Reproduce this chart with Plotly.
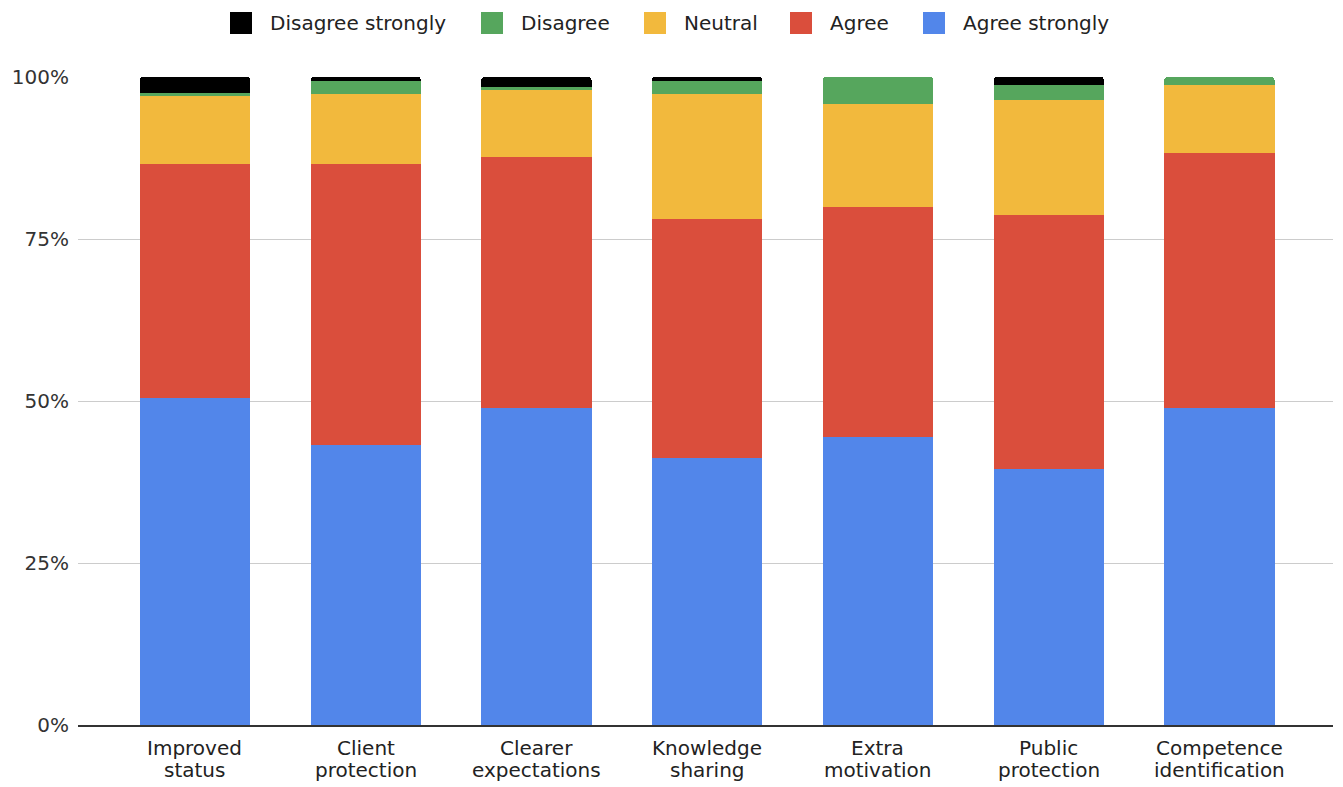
import plotly.graph_objects as go

# Survey responses per statement, share of respondents in percent
categories = [
    "Improved<br>status",
    "Client<br>protection",
    "Clearer<br>expectations",
    "Knowledge<br>sharing",
    "Extra<br>motivation",
    "Public<br>protection",
    "Competence<br>identification",
]
agree_strongly = [50.5, 43.2, 48.9, 41.2, 44.5, 39.5, 48.9]
agree = [36.1, 43.4, 38.8, 36.9, 35.4, 39.2, 39.4]
neutral = [10.5, 10.8, 10.4, 19.3, 16.0, 17.8, 10.5]
disagree = [0.5, 2.0, 0.3, 2.0, 4.1, 2.3, 1.2]
disagree_strongly = [2.4, 0.6, 1.6, 0.6, 0.0, 1.2, 0.0]

y_ticks = [0, 25, 50, 75, 100]
y_tick_labels = ["0%", "25%", "50%", "75%", "100%"]

# bottom-to-top stacking order
series = [
    ("Agree strongly", agree_strongly, "#5286EA"),
    ("Agree", agree, "#DA4E3C"),
    ("Neutral", neutral, "#F2B93D"),
    ("Disagree", disagree, "#56A65D"),
    ("Disagree strongly", disagree_strongly, "#000000"),
]

W, H = 1343, 787
L, R, T, B = 78, 10, 77, 62
FONT = "DejaVu Sans"

fig = go.Figure()
for name, vals, color in series:
    fig.add_trace(go.Bar(
        x=categories, y=vals, name=name,
        marker=dict(color=color, line=dict(width=0)),
        showlegend=False,
    ))


def px_x(px):
    return (px - L) / (W - L - R)


def px_y(py):
    return (H - B - py) / (H - T - B)


annotations = []
shapes = []

# legend row along the top, drawn from the series list (top series first)
legend_marker_x = [230, 481, 644, 790, 923]
for (name, _, color), mx in zip(reversed(series), legend_marker_x):
    shapes.append(dict(
        type="rect", xref="paper", yref="paper",
        x0=px_x(mx), x1=px_x(mx + 22), y0=px_y(34), y1=px_y(12),
        fillcolor=color, line=dict(width=0),
    ))
    annotations.append(dict(
        xref="paper", yref="paper", x=px_x(mx + 38), y=px_y(23),
        xanchor="left", yanchor="middle", showarrow=False,
        text=name, font=dict(family=FONT, size=20, color="#222222"),
    ))

# two-line category labels under the axis
for cat in categories:
    lines = cat.split("<br>")
    for i, line in enumerate(lines):
        annotations.append(dict(
            xref="x", yref="paper", x=cat, y=px_y(748 + 22 * i),
            xanchor="center", yanchor="middle", showarrow=False,
            text=line, font=dict(family=FONT, size=20, color="#222222"),
        ))

fig.update_layout(
    width=W, height=H,
    margin=dict(l=L, r=R, t=T, b=B, pad=0),
    barmode="stack",
    bargap=0.355,
    barcornerradius=3,
    plot_bgcolor="white",
    paper_bgcolor="white",
    font=dict(family=FONT, size=20, color="#333333"),
    shapes=shapes,
    annotations=annotations,
    xaxis=dict(
        range=[-0.685, 6.665],
        showticklabels=False,
        showgrid=False,
        showline=True, linecolor="#333333", linewidth=1.5,
        ticks="",
        fixedrange=True,
    ),
    yaxis=dict(
        range=[0, 100],
        tickmode="array",
        tickvals=y_ticks,
        ticktext=y_tick_labels,
        showgrid=True, gridcolor="#cccccc", gridwidth=1,
        zeroline=False,
        showline=False,
        ticks="",
        ticklabelstandoff=8,
        tickfont=dict(family=FONT, size=20, color="#333333"),
        fixedrange=True,
    ),
)

fig.write_html("out.html", config={"displayModeBar": False})
